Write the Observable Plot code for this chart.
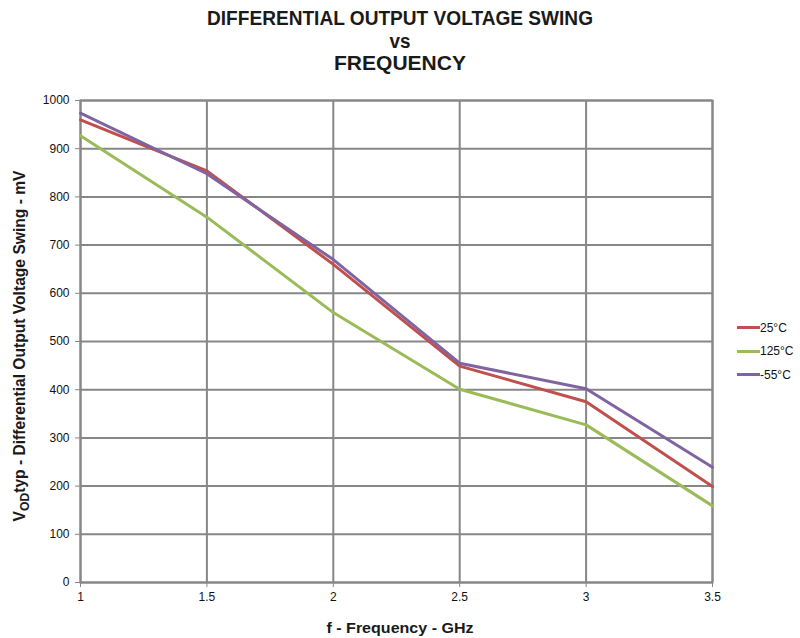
<!DOCTYPE html>
<html>
<head>
<meta charset="utf-8">
<script src="https://cdn.jsdelivr.net/npm/d3@7"></script>
<script src="https://cdn.jsdelivr.net/npm/@observablehq/plot@0.6"></script>
<style>
  body { margin: 0; background: #fff; font-family: "Liberation Sans", Arial, sans-serif; }
  #wrap { position: relative; width: 800px; height: 638px; }
  #legend { position: absolute; left: 737px; top: 316px; font-size: 12px; color: #111; }
  .li { display: flex; align-items: center; height: 23.5px; }
  .sw { width: 23px; height: 3px; }
</style>
</head>
<body>
<div id="wrap">
  <div id="chart"></div>
  <div id="legend"></div>
</div>
<script>
const freq = [1, 1.5, 2, 2.5, 3, 3.5];
const v25 = [960, 854, 660, 449, 375, 199];
const v125 = [927, 758, 560, 401, 327, 159];
const vm55 = [974, 848, 670, 455, 402, 239];
const seriesNames = ["25°C", "125°C", "-55°C"];
const seriesColors = ["#C0504D", "#9BBB59", "#8064A2"];
const xTicks = [1, 1.5, 2, 2.5, 3, 3.5];
const yTicks = [0, 100, 200, 300, 400, 500, 600, 700, 800, 900, 1000];
const titleLines = ["DIFFERENTIAL OUTPUT VOLTAGE SWING", "vs", "FREQUENCY"];

const seriesValues = [v25, v125, vm55];
const data = [];
seriesNames.forEach((name, i) => freq.forEach((f, j) => data.push({series: name, f, v: seriesValues[i][j]})));

const gridColor = "#878787";
const chart = Plot.plot({
  width: 800,
  height: 638,
  marginLeft: 80,
  marginRight: 88,
  marginTop: 100,
  marginBottom: 56,
  style: { fontFamily: "Liberation Sans, Arial, sans-serif", fontSize: "12px", color: "#111", background: "transparent" },
  x: { domain: [1, 3.5], ticks: xTicks, tickFormat: d => String(d), label: null },
  y: { domain: [0, 1000], ticks: yTicks, tickFormat: d => String(d), label: null },
  color: { domain: seriesNames, range: seriesColors },
  marks: [
    Plot.gridX(xTicks, { stroke: gridColor, strokeOpacity: 1, strokeWidth: 2 }),
    Plot.gridY(yTicks, { stroke: gridColor, strokeOpacity: 1, strokeWidth: 2 }),
    Plot.frame({ stroke: gridColor, strokeWidth: 2 }),
    Plot.axisX(xTicks, { tickSize: 5, stroke: gridColor, tickPadding: 5, fill: "#111", tickFormat: d => String(d) }),
    Plot.axisY(yTicks, { tickSize: 5, stroke: gridColor, tickPadding: 6, fill: "#111", tickFormat: d => String(d) }),
    Plot.line(data, { x: "f", y: "v", z: "series", stroke: "series", strokeWidth: 3, strokeLinejoin: "miter" })
  ]
});
document.getElementById("chart").appendChild(chart);

const svg = d3.select(chart);
const titleBase = [25, 47.5, 70];
const titleLen = [386, 21, 132];
titleLines.forEach((t, i) => {
  svg.append("text")
    .attr("x", 400).attr("y", titleBase[i])
    .attr("text-anchor", "middle")
    .attr("font-weight", "bold").attr("font-size", 20).attr("fill", "#1a1a1a")
    .attr("textLength", titleLen[i]).attr("lengthAdjust", "spacingAndGlyphs")
    .text(t);
});

svg.append("text")
  .attr("x", 400).attr("y", 633)
  .attr("text-anchor", "middle")
  .attr("font-weight", "bold").attr("font-size", 15).attr("fill", "#1a1a1a")
  .attr("textLength", 147).attr("lengthAdjust", "spacingAndGlyphs")
  .text("f - Frequency - GHz");

// y label, sized to span the same length as in the reference
const ylG = svg.append("g").attr("transform", "translate(25,346) rotate(-90)");
const yl = ylG.append("text")
  .attr("text-anchor", "middle")
  .attr("font-weight", "bold").attr("font-size", 14).attr("fill", "#1a1a1a");
yl.append("tspan").text("V");
const sub = yl.append("tspan").attr("font-size", 11).attr("dy", 4).text("OD");
yl.append("tspan").attr("dy", -4).text("typ - Differential Output Voltage Swing - mV");
const w = yl.node().getBBox().width;
if (w > 0) {
  const fs = 14 * 352 / w;
  yl.attr("font-size", fs);
  sub.attr("font-size", fs * 0.78);
}

const leg = document.getElementById("legend");
seriesNames.forEach((n, i) => {
  const d = document.createElement("div");
  d.className = "li";
  d.innerHTML = `<span class="sw" style="background:${seriesColors[i]}"></span><span>${n}</span>`;
  leg.appendChild(d);
});
</script>
</body>
</html>
